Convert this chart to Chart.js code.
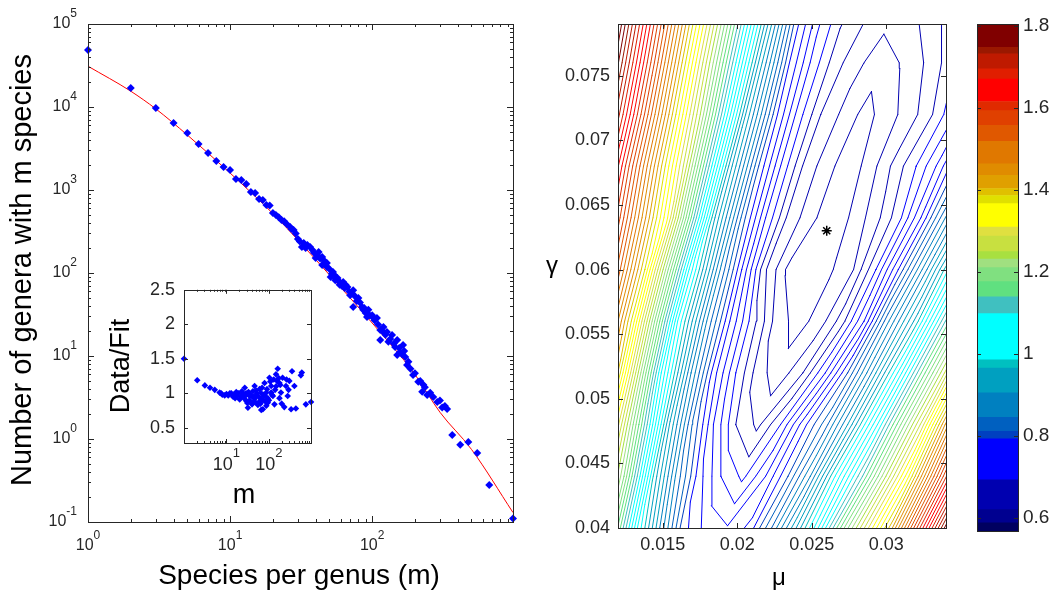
<!DOCTYPE html>
<html>
<head>
<meta charset="utf-8">
<script src="https://cdn.jsdelivr.net/npm/chart.js@4.4.1/dist/chart.umd.min.js"></script>
<style>
body{margin:0;background:#fff;width:1054px;height:593px;overflow:hidden;position:relative;font-family:"Liberation Sans",Arial,sans-serif}
canvas{position:absolute}
</style>
</head>
<body>
<canvas id="mainChart" width="530" height="593" style="left:0;top:0"></canvas>
<canvas id="insetChart" width="230" height="250" style="left:100px;top:270px"></canvas>
<canvas id="contourChart" width="440" height="593" style="left:530px;top:0"></canvas>
<canvas id="barChart" width="84" height="593" style="left:970px;top:0"></canvas>
<script>
// main panel: genera with m species
const speciesM = [1,2,3,4,5,6,7,8,9,10,11,12,13,14,15,16,17,18,19,20,21,22,23,24,25,26.5,27,28,29,30,31,32,33,34,35,36.6,38,39,40,41,42,43,44.5,44.5,46,47,48,48,50,51,52,53,54,55,56,57,58,59,60,61,62.5,64,65,67,69,70,72,73.5,73.5,76,78,80,82,85,86.5,88,90,92,94,96,100,102,104,108,110,114,114,118,120,124,127,130,134,138,142,145,150,150,155,157,162,165,168,171,176,180,186,194,200,211,218,225,229,235,244,256,269,287,300,311,325,337,366,417,475,549,667,980];
const generaCount = [48600,16900,9700,6400,4860,3580,2790,2230,1890,1740,1360,1320,1180,946,920,780,760,660,650,530,500,470,436,420,389,358,340,330,300,257,240,206,230,200,217,206,189,175,152,165,179,150,156,125,140,128,132,118,112,89.5,98,103,95,82,85,87,80,72,76,70,78,66,72,68,60,54,57,62,39,52,46,50,44,39,36,38,33,29.5,36,31,31,28.7,27,28.7,24,20.6,15.6,20,22.3,18,19.4,14.8,16,17.9,14,12.8,15.6,10.3,12.5,11.2,10.5,13.6,11.5,9.7,7.8,8.5,7,5.9,6.2,4.9,5,3.7,4.5,4.2,3.4,3.6,3.2,2.8,2.9,2.4,2.5,2.3,1.12,0.85,0.92,0.68,0.28,0.11];
const fitM = [1,2,3,5,10,20,30,50,100,200,300,500,980];
const fitCount = [31000,15500,9500,4600,1600,520,250,95,25,6,2.1,0.75,0.13];
const mMax = 980;

// inset: data / fit
const insetM = [1,2.05,3.1,4.1,5.3,6.9,7.5,8,9.1,10,11,12,13,14.3,15,16,17,18,19,20.5,22,23,24.5,26,27,28,29,29.4,31,32,33,35,35,37,39,40,42,42,44,46,46,48,50,50,52,55,57,60,60,63,66,66,66,69,72,72,75,79,79,83,87,87,90,94,94,100,103,108,113,113,118,124,130,135,140,147,147,155,161,170,177,177,185,192,200,210,230,252,260,277,290,303,333,350,398,432,566,596,741,980];
const insetRatio = [1.5,1.19,1.115,1.08,1.05,1.01,1.0,0.98,0.97,0.99,0.97,1.0,1.0,0.95,0.98,0.93,1.02,0.96,1.0,0.91,0.95,1.03,0.985,0.93,1.08,0.97,1.0,0.89,0.86,0.79,1.02,0.96,0.9,0.98,0.96,0.84,0.865,1.03,0.95,1.105,0.92,0.87,0.97,1.04,1.0,0.83,0.95,1.06,0.88,0.85,0.92,1.0,0.76,1.08,0.77,0.9,0.98,1.15,0.96,0.88,1.01,0.82,1.06,0.865,0.93,0.9,1.225,1.17,1.105,1.01,0.98,0.96,1.2,0.84,1.05,1.275,1.1,1.18,1.355,1.22,1.15,0.93,1.12,1.01,0.85,1.225,0.8,1.105,1.2,0.96,1.05,1.18,0.77,1.32,1.105,0.78,1.26,1.3,0.84,0.875];
const insetYTicks = [0.5,1,1.5,2,2.5];

// right panel: fit quality over (mu, gamma), sampled along the valley
const gammaRows = [0.040,0.044,0.048,0.052,0.056,0.060,0.064,0.068,0.072,0.076,0.080];
const valleyMu  = [0.0193,0.0204,0.0214,0.0229,0.0240,0.0248,0.0264,0.0275,0.0286,0.0295,0.0301];
const muOffsets = [-0.020,-0.015,-0.011,-0.008,-0.006,-0.0045,-0.003,-0.0015,0,0.0015,0.003,0.0045,0.006,0.008,0.011,0.015];
const fitField = [
  [2.25,1.82,1.48,1.23,1.02,0.90,0.79,0.755,0.742,0.765,0.84,0.93,1.03,1.19,1.41,1.80],
  [2.24,1.81,1.47,1.20,0.976,0.856,0.77,0.72,0.695,0.74,0.80,0.88,0.99,1.12,1.35,1.73],
  [2.23,1.81,1.47,1.16,0.944,0.824,0.74,0.68,0.655,0.70,0.77,0.83,0.92,1.06,1.29,1.68],
  [2.17,1.75,1.41,1.06,0.88,0.77,0.70,0.648,0.628,0.66,0.72,0.80,0.893,1.03,1.26,1.65],
  [2.15,1.73,1.37,1.02,0.856,0.76,0.69,0.635,0.611,0.628,0.67,0.74,0.85,0.97,1.20,1.56],
  [2.14,1.72,1.38,1.036,0.864,0.76,0.665,0.618,0.604,0.618,0.64,0.70,0.78,0.905,1.115,1.45],
  [2.07,1.64,1.314,0.968,0.808,0.72,0.655,0.627,0.603,0.627,0.655,0.695,0.764,0.888,1.07,1.39],
  [2.02,1.60,1.27,0.952,0.795,0.715,0.655,0.628,0.606,0.632,0.665,0.70,0.745,0.84,1.02,1.33],
  [1.99,1.575,1.233,0.936,0.785,0.71,0.66,0.635,0.612,0.632,0.65,0.68,0.72,0.79,0.98,1.28],
  [1.97,1.555,1.21,0.933,0.78,0.715,0.67,0.645,0.630,0.641,0.66,0.685,0.72,0.78,0.92,1.22],
  [1.97,1.556,1.22,0.955,0.79,0.725,0.685,0.665,0.648,0.655,0.67,0.695,0.73,0.79,0.89,1.15]
];
const bestMu = 0.026, bestGamma = 0.063;
const levelFrom = 0.62, levelTo = 1.80, levelStep = 0.02;
const muTicks = [0.015,0.02,0.025,0.03];
const gammaTicks = [0.04,0.045,0.05,0.055,0.06,0.065,0.07,0.075];

// colour bar bands
const bandLo = [0.568,0.588,0.620,0.693,0.793,0.811,0.845,0.905,0.965,0.985,1.098,1.139,1.176,1.210,1.231,1.249,1.287,1.309,1.366,1.386,1.403,1.435,1.463,1.518,1.557,1.593,1.615,1.670,1.695,1.731,1.747];
const bandHi = [0.588,0.620,0.693,0.793,0.811,0.845,0.905,0.965,0.985,1.098,1.139,1.176,1.210,1.231,1.249,1.287,1.309,1.366,1.386,1.403,1.435,1.463,1.518,1.557,1.593,1.615,1.670,1.695,1.731,1.747,1.804];
const bandColor = ['#000060','#000090','#0000b0','#0000ff','#0040c0','#0060c0','#0080c0','#00a0c0','#00c0c0','#00ffff','#40c0c0','#60e080','#80e080','#a0e080','#a8e040','#c8e040','#e0e040','#ffff00','#e0e000','#e0c000','#e0a000','#e08c00','#e07800','#e05800','#e04000','#e02a00','#ff0000','#e01e00','#bf1a00','#9a1800','#800000'];
const cbTicks = [0.6,0.8,1,1.2,1.4,1.6,1.8];

const FONT = '"Liberation Sans", Arial, sans-serif';
Chart.defaults.font.family = FONT;
Chart.defaults.color = '#262626';

function colorFor(v){
  for(let i=0;i<bandLo.length;i++){
    if(v>=bandLo[i] && v<bandHi[i]) return bandColor[i];
  }
  return v<bandLo[0] ? bandColor[0] : bandColor[bandColor.length-1];
}

function drawPow(ctx, exp, x, y, align, fs, efs){
  ctx.font = fs+'px '+FONT;
  const wb = ctx.measureText('10').width;
  ctx.font = efs+'px '+FONT;
  const es = String(exp);
  const we = ctx.measureText(es).width;
  const x0 = align==='center' ? x-(wb+we)/2 : x-(wb+we);
  ctx.textAlign='left'; ctx.textBaseline='middle';
  ctx.font = fs+'px '+FONT;
  ctx.fillText('10', x0, y);
  ctx.font = efs+'px '+FONT;
  ctx.fillText(es, x0+wb, y-fs*0.66);
}

// box, inner tick marks, power labels and titles
const frame = {
  id:'frame',
  afterDatasetsDraw(chart, args, o){
    const ctx = chart.ctx, a = chart.chartArea;
    const xs = chart.scales.x, ys = chart.scales.y;
    ctx.save();
    ctx.strokeStyle = '#262626';
    ctx.lineWidth = 1;
    ctx.beginPath();
    (o.xTicks||[]).forEach(t=>{
      const px = Math.round(xs.getPixelForValue(t.v))+0.5;
      const len = t.minor ? o.minorLen : o.majorLen;
      ctx.moveTo(px,a.bottom); ctx.lineTo(px,a.bottom-len);
      ctx.moveTo(px,a.top); ctx.lineTo(px,a.top+len);
    });
    (o.yTicks||[]).forEach(t=>{
      const py = Math.round(ys.getPixelForValue(t.v))+0.5;
      const len = t.minor ? o.minorLen : o.majorLen;
      ctx.moveTo(a.left,py); ctx.lineTo(a.left+len,py);
      ctx.moveTo(a.right,py); ctx.lineTo(a.right-len,py);
    });
    ctx.stroke();
    ctx.strokeRect(Math.round(a.left)+0.5, Math.round(a.top)+0.5, Math.round(a.right-a.left), Math.round(a.bottom-a.top));
    ctx.fillStyle = '#262626';
    (o.powX||[]).forEach(p=>drawPow(ctx, p, xs.getPixelForValue(Math.pow(10,p)), o.powXY, 'center', o.powFont, o.expFont));
    (o.powY||[]).forEach(p=>drawPow(ctx, p, o.powYX, ys.getPixelForValue(Math.pow(10,p)), 'right', o.powFont, o.expFont));
    ctx.fillStyle = '#000';
    (o.texts||[]).forEach(t=>{
      ctx.save();
      ctx.translate(t.x,t.y);
      if(t.rot) ctx.rotate(t.rot);
      ctx.font = t.size+'px '+FONT;
      ctx.textAlign='center'; ctx.textBaseline='middle';
      ctx.fillText(t.t,0,0);
      ctx.restore();
    });
    ctx.restore();
  }
};

function logTicks(lo, hi){
  const out = [];
  for(let d=lo; d<hi; d++){
    for(let k=1;k<10;k++) out.push({v:k*Math.pow(10,d), minor:k>1});
  }
  out.push({v:Math.pow(10,hi), minor:false});
  return out;
}

const baseOpts = {responsive:false, animation:false, events:[], plugins:{legend:{display:false}, tooltip:{enabled:false}}};

// main chart
new Chart(document.getElementById('mainChart'), {
  type:'scatter',
  data:{datasets:[
    {data:speciesM.map((m,i)=>({x:m,y:generaCount[i]})), pointStyle:'rectRot', pointRadius:4, backgroundColor:'#0000ff', borderWidth:0, clip:false},
    {data:fitM.map((m,i)=>({x:m,y:fitCount[i]})), showLine:true, borderColor:'#ff0000', borderWidth:1, pointRadius:0, cubicInterpolationMode:'monotone'}
  ]},
  options:{...baseOpts,
    layout:{padding:{top:24,right:17}},
    plugins:{...baseOpts.plugins, frame:{
      xTicks:logTicks(0,3).filter(t=>t.v<=mMax), yTicks:logTicks(-1,5), majorLen:6, minorLen:3,
      powX:[0,1,2], powXY:546, powY:[-1,0,1,2,3,4,5], powYX:77, powFont:16, expFont:12,
      texts:[{t:'Number of genera with m species',x:23,y:270,size:29,rot:-Math.PI/2},{t:'Species per genus (m)',x:299,y:576,size:28}]
    }},
    scales:{
      x:{type:'logarithmic',min:1,max:mMax,ticks:{display:false},grid:{display:false},border:{display:false},afterFit(s){s.height=71;}},
      y:{type:'logarithmic',min:0.1,max:1e5,ticks:{display:false},grid:{display:false},border:{display:false},afterFit(s){s.width=88;}}
    }
  },
  plugins:[frame]
});

// inset
new Chart(document.getElementById('insetChart'), {
  type:'scatter',
  data:{datasets:[
    {data:insetM.map((m,i)=>({x:m,y:insetRatio[i]})), pointStyle:'rectRot', pointRadius:3.3, backgroundColor:'#0000ff', borderWidth:0, clip:false}
  ]},
  options:{...baseOpts,
    layout:{padding:{top:19,right:19}},
    plugins:{...baseOpts.plugins, frame:{
      xTicks:logTicks(0,3).filter(t=>t.v<=mMax && t.v>1), yTicks:insetYTicks.map(v=>({v})), majorLen:4, minorLen:2,
      powX:[1,2], powXY:195, powFont:18, expFont:13,
      texts:[{t:'Data/Fit',x:22,y:96,size:27,rot:-Math.PI/2},{t:'m',x:144,y:226,size:27}]
    }},
    scales:{
      x:{type:'logarithmic',min:1,max:mMax,ticks:{display:false},grid:{display:false},border:{display:false},afterFit(s){s.height=77;}},
      y:{min:0.28,max:2.5,afterBuildTicks(s){s.ticks=insetYTicks.map(v=>({value:v}));},
         ticks:{font:{size:18},padding:9,color:'#262626',callback:v=>String(v)},grid:{display:false,drawTicks:false},border:{display:false},afterFit(s){s.width=84;}}
    }
  },
  plugins:[frame]
});

// contour lines by marching squares over the valley-aligned grid
function gridPoint(j,i){
  return {x:valleyMu[j]+muOffsets[i], y:gammaRows[j]};
}
function contourPoints(level){
  const pts = [];
  for(let j=0;j<gammaRows.length-1;j++){
    for(let i=0;i<muOffsets.length-1;i++){
      const P=[gridPoint(j,i),gridPoint(j,i+1),gridPoint(j+1,i+1),gridPoint(j+1,i)];
      const Z=[fitField[j][i],fitField[j][i+1],fitField[j+1][i+1],fitField[j+1][i]];
      const cross=[];
      for(let e=0;e<4;e++){
        const za=Z[e], zb=Z[(e+1)%4], pa=P[e], pb=P[(e+1)%4];
        if((za<level)!==(zb<level)){
          const t=(level-za)/(zb-za);
          cross.push({x:pa.x+t*(pb.x-pa.x), y:pa.y+t*(pb.y-pa.y)});
        }
      }
      const gap=p=>({x:p.x,y:null});
      if(cross.length===2){
        pts.push(cross[0],cross[1],gap(cross[1]));
      }else if(cross.length===4){
        const mid=(Z[0]+Z[1]+Z[2]+Z[3])/4;
        if((mid<level)===(Z[0]<level)) pts.push(cross[0],cross[1],gap(cross[1]),cross[2],cross[3],gap(cross[3]));
        else pts.push(cross[3],cross[0],gap(cross[0]),cross[1],cross[2],gap(cross[2]));
      }
    }
  }
  return pts;
}

const contourSets = [];
for(let k=0; levelFrom+k*levelStep<=levelTo+1e-9; k++){
  const lv = Math.round((levelFrom+k*levelStep)*1000)/1000;
  contourSets.push({data:contourPoints(lv), showLine:true, spanGaps:false, borderColor:colorFor(lv), borderWidth:1, pointRadius:0, borderCapStyle:'round'});
}
contourSets.unshift({data:[{x:bestMu,y:bestGamma}], pointStyle:'star', pointRadius:5, borderColor:'#000', borderWidth:1.5, backgroundColor:'#000'});

new Chart(document.getElementById('contourChart'), {
  type:'scatter',
  data:{datasets:contourSets},
  options:{...baseOpts,
    layout:{padding:{top:24,right:24}},
    plugins:{...baseOpts.plugins, frame:{
      xTicks:muTicks.map(v=>({v})), yTicks:gammaTicks.map(v=>({v})), majorLen:5, minorLen:3,
      texts:[{t:'γ',x:22,y:266,size:24},{t:'μ',x:249,y:578,size:24}]
    }},
    scales:{
      x:{min:0.012,max:0.034,afterBuildTicks(s){s.ticks=muTicks.map(v=>({value:v}));},
         ticks:{font:{size:18},padding:6,color:'#262626',maxRotation:0,callback:v=>String(v)},grid:{display:false,drawTicks:false},border:{display:false},afterFit(s){s.height=65;}},
      y:{min:0.04,max:0.079,afterBuildTicks(s){s.ticks=gammaTicks.map(v=>({value:v}));},
         ticks:{font:{size:18},padding:8,color:'#262626',callback:v=>String(v)},grid:{display:false,drawTicks:false},border:{display:false},afterFit(s){s.width=88;}}
    }
  },
  plugins:[frame]
});

// colour bar
new Chart(document.getElementById('barChart'), {
  type:'bar',
  data:{labels:['c'], datasets:bandLo.map((lo,i)=>({data:[[lo,bandHi[i]]], backgroundColor:bandColor[i], borderWidth:0, barPercentage:1, categoryPercentage:1}))},
  options:{...baseOpts,
    layout:{padding:{top:24,bottom:62,left:7}},
    plugins:{...baseOpts.plugins, frame:{yTicks:cbTicks.map(v=>({v})), majorLen:4, minorLen:2}},
    scales:{
      x:{display:false, stacked:true},
      y:{position:'right',min:0.568,max:1.804,afterBuildTicks(s){s.ticks=cbTicks.map(v=>({value:v}));},
         ticks:{font:{size:19},padding:5,color:'#262626',callback:v=>String(Math.round(v*10)/10)},grid:{display:false,drawTicks:false},border:{display:false},afterFit(s){s.width=36;}}
    }
  },
  plugins:[frame]
});
</script>
</body>
</html>
